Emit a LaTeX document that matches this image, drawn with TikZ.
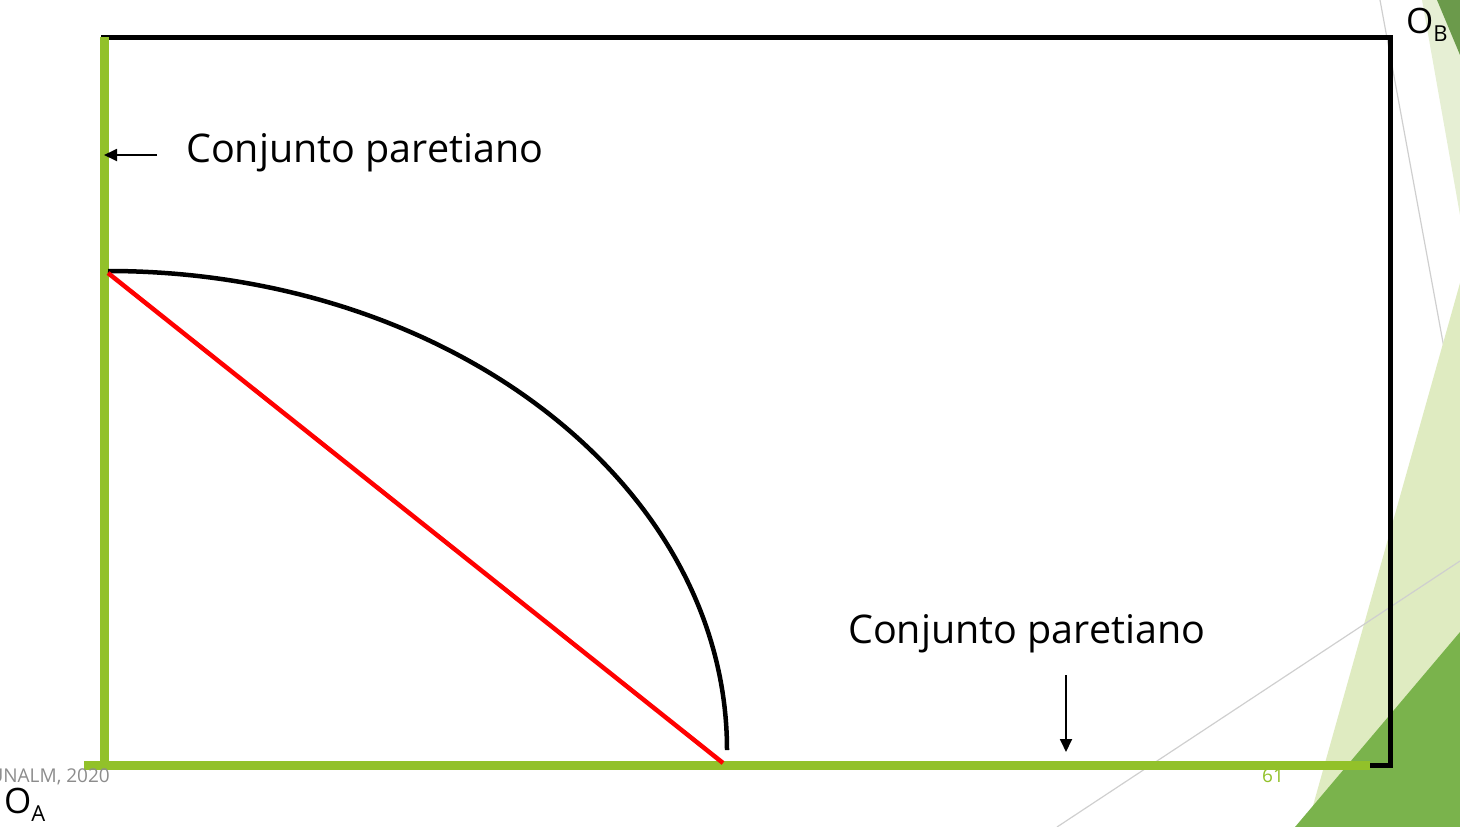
\documentclass[tikz,border=0pt]{standalone}
\usepackage{fontspec}
\setmainfont{Open Sans}
\usetikzlibrary{arrows.meta}
\definecolor{frameGreen}{HTML}{92C12A}
\definecolor{paleGreen}{HTML}{E6EFD4}
\definecolor{lightGreen}{HTML}{DFEBC1}
\definecolor{darkGreen}{HTML}{7AB34C}
\definecolor{mutedGreen}{HTML}{6B9A4B}
\definecolor{footGray}{HTML}{8C8C8C}
\definecolor{thinGray}{HTML}{CFCFCF}
\tikzset{
  greenaxis/.style={draw=frameGreen, line width=9pt},
  blackframe/.style={draw=black, line width=5.5pt},
  label/.style={inner sep=0pt, font=\fontsize{39.5}{39.5}\selectfont},
  pointer/.style={line width=1.8pt, -{Triangle[length=13pt,width=12pt]}},
  deco/.style={draw=thinGray, line width=1.2pt}
}
\begin{document}
\begin{tikzpicture}[x=1pt,y=-1pt]
\useasboundingbox (0,0) rectangle (1460,827);
% background decoration
\fill[paleGreen] (1422,0) -- (1460,0) -- (1460,215) -- cycle;
\fill[mutedGreen] (1437,0) -- (1460,0) -- (1460,55) -- cycle;
\draw[deco] (1380,0) -- (1460,435);
\fill[lightGreen] (1460,283) -- (1460,827) -- (1307,827) -- cycle;
\draw[deco] (1460,561) -- (1057,827);
\fill[darkGreen] (1460,632) -- (1460,827) -- (1295,827) -- cycle;
% frame
\draw[blackframe] (101,37.5) -- (1390.5,37.5) -- (1390.5,765.5) -- (1370,765.5);
\draw[greenaxis] (104,37) -- (104,770);
\draw[greenaxis] (84,765.5) -- (1370,765.5);
% curves
\coordinate (top) at (108,271);
\coordinate (bot) at (727,750);
\coordinate (redend) at (723,763);
\draw[line width=4.5pt] (top) arc[start angle=-90, end angle=0, x radius=619, y radius=479];
\draw[red, line width=4.5pt] (108,273) -- (redend);
% labels
\node[label, anchor=west] (lblA) at (186,153) {Conjunto paretiano};
\node[label, anchor=west] (lblB) at (848,634) {Conjunto paretiano};
\coordinate (aTail) at (157,155);
\coordinate (aHead) at (104,155);
\draw[pointer] (aTail) -- (aHead);
\coordinate (bTail) at (1066,675);
\coordinate (bHead) at (1066,752);
\draw[pointer] (bTail) -- (bHead);
% origins
\node[inner sep=0pt, anchor=base west] (OA) at (4,813) {\fontsize{35}{35}\selectfont O\raisebox{-8pt}{\fontsize{22}{22}\selectfont A}};
\node[inner sep=0pt, anchor=base west] (OB) at (1406,34) {\fontsize{35}{35}\selectfont O\raisebox{-8pt}{\fontsize{22}{22}\selectfont B}};
% footer
\node[inner sep=0pt, anchor=base east, text=footGray] (foot) at (110,782) {\fontsize{19}{19}\selectfont UNALM, 2020};
\node[inner sep=0pt, anchor=base, text=frameGreen] (page) at (1273,782) {\fontsize{19}{19}\selectfont 61};
\end{tikzpicture}
\end{document}
